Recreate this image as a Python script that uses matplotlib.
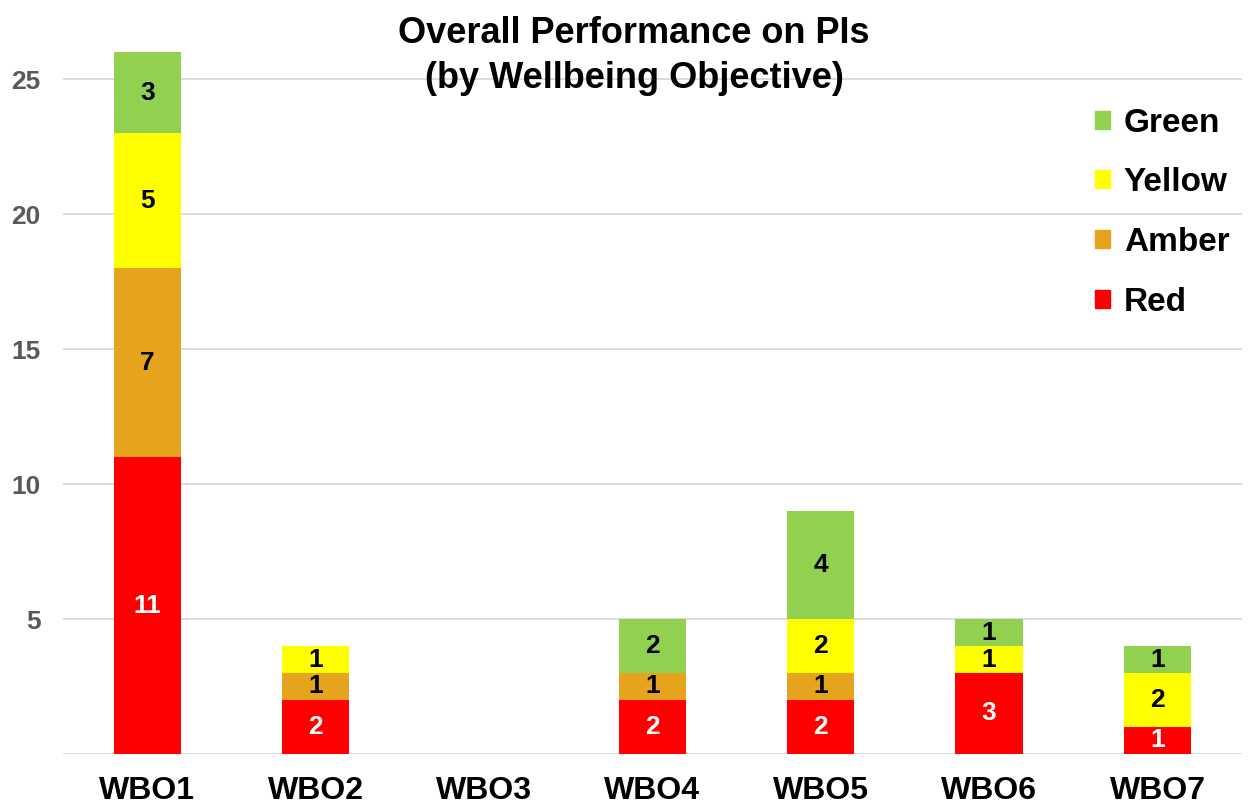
import numpy as np
import matplotlib.pyplot as plt
from matplotlib.patches import Patch

plt.rcParams['font.family'] = ['Liberation Sans', 'DejaVu Sans']

# dados
categories = ['WBO1', 'WBO2', 'WBO3', 'WBO4', 'WBO5', 'WBO6', 'WBO7']
red = [11, 2, 0, 2, 2, 3, 1]
amber = [7, 1, 0, 1, 1, 0, 0]
yellow = [5, 1, 0, 0, 2, 1, 2]
green = [3, 0, 0, 2, 4, 1, 1]

series = [('Red', red, '#FF0000', 'white'),
          ('Amber', amber, '#E6A31E', 'black'),
          ('Yellow', yellow, '#FFFF00', 'black'),
          ('Green', green, '#92D050', 'black')]

fig = plt.figure(figsize=(12.48, 8.05), dpi=100)
ax = fig.add_axes([0.0505, 0.0634, 0.9445, 0.8716])

x = np.arange(len(categories))
bottom = np.zeros(len(categories))
for name, vals, col, tcol in series:
    vals = np.array(vals, dtype=float)
    bars = ax.bar(x, vals, 0.40, bottom=bottom, color=col, zorder=3)
    labels = [str(int(v)) if v > 0 else '' for v in vals]
    ax.bar_label(bars, labels=labels, label_type='center', color=tcol,
                 fontsize=19, fontweight='bold')
    bottom += vals

ax.set_xlim(-0.5, len(categories) - 0.5)
ax.set_ylim(0, 26)
ax.set_yticks([0, 5, 10, 15, 20, 25])
ax.set_yticklabels(['', '5', '10', '15', '20', '25'])
ax.set_xticks(x)
ax.set_xticklabels(categories, fontsize=23, fontweight='bold')
ax.tick_params(axis='x', length=0, pad=16)
ax.tick_params(axis='y', length=0, pad=16, labelsize=19, labelcolor='#595959')
for lab in ax.get_yticklabels():
    lab.set_fontweight('bold')
ax.grid(axis='y', color='#D9D9D9', linewidth=1.3, zorder=0)
for s in ax.spines.values():
    s.set_visible(False)

handles = [Patch(color=c, label=n) for n, v, c, t in series[::-1]]
ax.legend(handles=handles, loc='upper right', bbox_to_anchor=(1.015, 0.964),
          frameon=False, handlelength=0.45, handleheight=0.45,
          handletextpad=0.4, labelspacing=0.86,
          prop={'size': 24, 'weight': 'bold'})

fig.text(634 / 1248, 1 - 56 / 805, 'Overall Performance on PIs\n(by Wellbeing Objective)',
         ha='center', va='center', fontsize=26, fontweight='bold', linespacing=1.4)

fig.savefig('out.png', dpi=100, facecolor='white')
